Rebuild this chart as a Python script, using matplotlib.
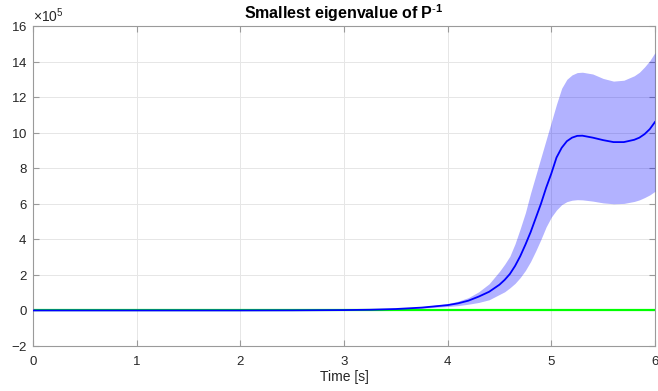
import matplotlib
matplotlib.use("Agg")
import matplotlib.pyplot as plt
from matplotlib.ticker import ScalarFormatter

plt.rcParams["font.family"] = ["Liberation Sans", "DejaVu Sans"]
plt.rcParams["mathtext.fontset"] = "custom"
plt.rcParams["mathtext.rm"] = "Liberation Sans"
plt.rcParams["mathtext.bf"] = "Liberation Sans:bold"
plt.rcParams["axes.unicode_minus"] = False

SCALE = 1e5

# time axis [s]
time_s = [0.0, 1.0, 2.0, 2.5, 3.0, 3.25, 3.5, 3.75, 4.0, 4.1, 4.2, 4.3, 4.4,
          4.5, 4.55, 4.6, 4.65, 4.7, 4.75, 4.8, 4.85, 4.9, 4.95, 5.0, 5.05,
          5.1, 5.15, 5.2, 5.25, 5.3, 5.4, 5.5, 5.6, 5.7, 5.8, 5.85, 5.9,
          5.95, 6.0]

# smallest eigenvalue of P^-1 (units of 1e5)
eig_mean = [0.0, 0.0, 0.0, 0.005, 0.02, 0.04, 0.08, 0.16, 0.30, 0.40, 0.55,
            0.78, 1.05, 1.45, 1.72, 2.05, 2.5, 3.05, 3.7, 4.4, 5.2, 6.0, 6.9,
            7.7, 8.6, 9.15, 9.52, 9.72, 9.82, 9.83, 9.72, 9.58, 9.47, 9.47,
            9.6, 9.72, 9.92, 10.2, 10.6]
eig_upper = [0.0, 0.0, 0.0, 0.006, 0.025, 0.05, 0.09, 0.2, 0.38, 0.52, 0.72,
             1.05, 1.5, 2.2, 2.6, 3.05, 3.75, 4.6, 5.5, 6.6, 7.6, 8.6, 9.6,
             10.6, 11.6, 12.5, 13.0, 13.25, 13.38, 13.4, 13.3, 13.05, 12.9,
             12.95, 13.2, 13.4, 13.7, 14.05, 14.5]
eig_lower = [0.0, 0.0, 0.0, 0.004, 0.015, 0.03, 0.07, 0.13, 0.22, 0.27, 0.35,
             0.45, 0.6, 0.9, 1.05, 1.27, 1.52, 1.85, 2.25, 2.75, 3.35, 4.0,
             4.7, 5.25, 5.65, 5.95, 6.12, 6.2, 6.23, 6.22, 6.15, 6.05, 6.0,
             6.02, 6.13, 6.22, 6.35, 6.5, 6.7]
reference = [0.0] * len(time_s)

xticks = [0, 1, 2, 3, 4, 5, 6]
yticks = [-2, 0, 2, 4, 6, 8, 10, 12, 14, 16]


def scaled(vals):
    return [v * SCALE for v in vals]


fig = plt.figure(figsize=(6.58, 3.91), dpi=100)
ax = fig.add_axes([0.0502, 0.1151, 0.9452, 0.8184])

ax.plot(time_s, reference, color="#00ff00", lw=1.6, zorder=2)
ax.fill_between(time_s, scaled(eig_lower), scaled(eig_upper),
                color="blue", alpha=0.3, lw=0, zorder=3)
ax.plot(time_s, scaled(eig_mean), color="blue", lw=1.3, zorder=4)

ax.set_xlim(0, 6)
ax.set_ylim(-2 * SCALE, 16 * SCALE)
ax.set_xticks(xticks)
ax.set_yticks(scaled(yticks))

fmt = ScalarFormatter(useMathText=True)
fmt.set_powerlimits((5, 5))
ax.yaxis.set_major_formatter(fmt)
ax.yaxis.get_offset_text().set_fontsize(10)
ax.yaxis.get_offset_text().set_color("#262626")

ax.grid(True, color="#e6e6e6", lw=0.7)
ax.set_axisbelow(True)
for sp in ax.spines.values():
    sp.set_color("#9a9a9a")
    sp.set_linewidth(0.8)
ax.tick_params(direction="in", top=True, right=True, length=4,
               color="#9a9a9a", labelsize=9.5, labelcolor="#262626")
ax.tick_params(axis="x", pad=7)
ax.tick_params(axis="y", pad=4)

ax.set_xlabel("Time [s]", fontsize=10, color="#262626", labelpad=2)
ax.set_title(r"Smallest eigenvalue of P$^{\mathbf{\text{-}1}}$", fontsize=11.5,
             fontweight="bold", pad=5)

fig.savefig("out.png", dpi=100)
